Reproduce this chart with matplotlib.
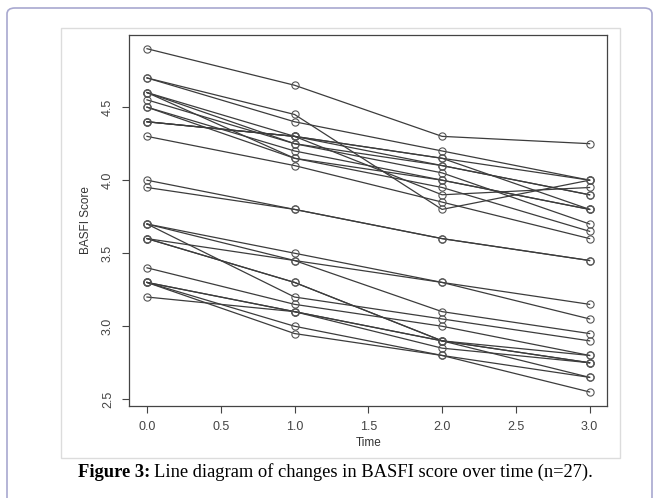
import matplotlib.pyplot as plt
from matplotlib.patches import FancyBboxPatch, Rectangle

time = [0, 1, 2, 3]

# BASFI scores per subject
top_subject = [[4.9, 4.65, 4.3, 4.25]]
high_group = [
    [4.7, 4.45, 3.8, 4.0],
    [4.7, 4.4, 4.2, 4.0],
    [4.6, 4.3, 4.15, 3.8],
    [4.6, 4.25, 4.1, 3.9],
    [4.6, 4.15, 4.0, 3.8],
    [4.55, 4.25, 4.05, 3.7],
    [4.5, 4.2, 4.0, 3.8],
    [4.5, 4.15, 3.95, 3.65],
    [4.4, 4.3, 4.15, 4.0],
    [4.4, 4.3, 4.1, 3.9],
    [4.4, 4.3, 3.9, 3.95],
    [4.3, 4.1, 3.85, 3.6],
]
mid_group = [
    [4.0, 3.8, 3.6, 3.45],
    [3.95, 3.8, 3.6, 3.45],
]
low_group = [
    [3.7, 3.5, 3.3, 3.15],
    [3.7, 3.45, 3.3, 3.05],
    [3.6, 3.45, 3.1, 2.95],
    [3.7, 3.2, 3.05, 2.9],
    [3.6, 3.3, 2.9, 2.75],
    [3.6, 3.3, 2.9, 2.65],
    [3.4, 3.15, 3.0, 2.8],
    [3.3, 3.1, 2.9, 2.8],
    [3.2, 3.1, 2.85, 2.75],
    [3.3, 3.0, 2.8, 2.65],
    [3.3, 2.95, 2.8, 2.55],
    [3.3, 3.1, 2.9, 2.75],
]
subjects = top_subject + high_group + mid_group + low_group

x_ticks = [0.0, 0.5, 1.0, 1.5, 2.0, 2.5, 3.0]
y_ticks = [2.5, 3.0, 3.5, 4.0, 4.5]

plt.rcParams['font.family'] = ['Liberation Sans', 'DejaVu Sans']

fig = plt.figure(figsize=(6.6, 4.98), dpi=100)
W, H = 660, 498

# outer rounded frame and the pasted-plot border
fig.patches.append(FancyBboxPatch((7 / W, -0.2), 645 / W, 1.2 - 8 / H,
                                  boxstyle='round,pad=0,rounding_size=0.012',
                                  transform=fig.transFigure, fill=False,
                                  edgecolor='#a8a8d0', linewidth=1.2))
fig.patches.append(Rectangle((61 / W, 1 - 458 / H), 559 / W, 430 / H,
                             transform=fig.transFigure, fill=False,
                             edgecolor='#dcdcdc', linewidth=1.0))

ax = fig.add_axes([129.3 / W, 1 - 405.7 / H, 478 / W, 370.7 / H])
for s in subjects:
    ax.plot(time, s, color='#3c3c3c', linewidth=0.9,
            marker='o', markersize=5.2, markerfacecolor='none',
            markeredgecolor='#555555', markeredgewidth=0.8)

ax.set_xlim(-0.12, 3.12)
ax.set_ylim(2.456, 4.994)
ax.set_xticks(x_ticks)
ax.set_xticklabels([f'{t:.1f}' for t in x_ticks], fontsize=9, color='#333333')
ax.set_yticks(y_ticks)
ax.set_yticklabels([f'{t:.1f}' for t in y_ticks], fontsize=9, color='#333333',
                   rotation=90, va='center')
ax.tick_params(direction='out', length=5, width=0.8, colors='#444444', pad=6)
for sp in ax.spines.values():
    sp.set_color('#444444')
    sp.set_linewidth(0.9)

ax.set_xlabel('Time', fontsize=8.5, labelpad=3, color='#333333')
ax.set_ylabel('BASFI Score', fontsize=8.5, labelpad=7, color='#333333')

# caption: bold label, then plain text right after it
cap_y = 1 - 472 / H
bold = fig.text(78 / W, cap_y, 'Figure 3:', family='Liberation Serif',
                fontweight='bold', fontsize=13.3, va='center', ha='left')
fig.canvas.draw()
bb = bold.get_window_extent()
fig.text((bb.x1 + 4) / W, cap_y,
         'Line diagram of changes in BASFI score over time (n=27).',
         family='Liberation Serif', fontsize=13.3, va='center', ha='left')

fig.savefig('out.png', dpi=100, facecolor='white')
